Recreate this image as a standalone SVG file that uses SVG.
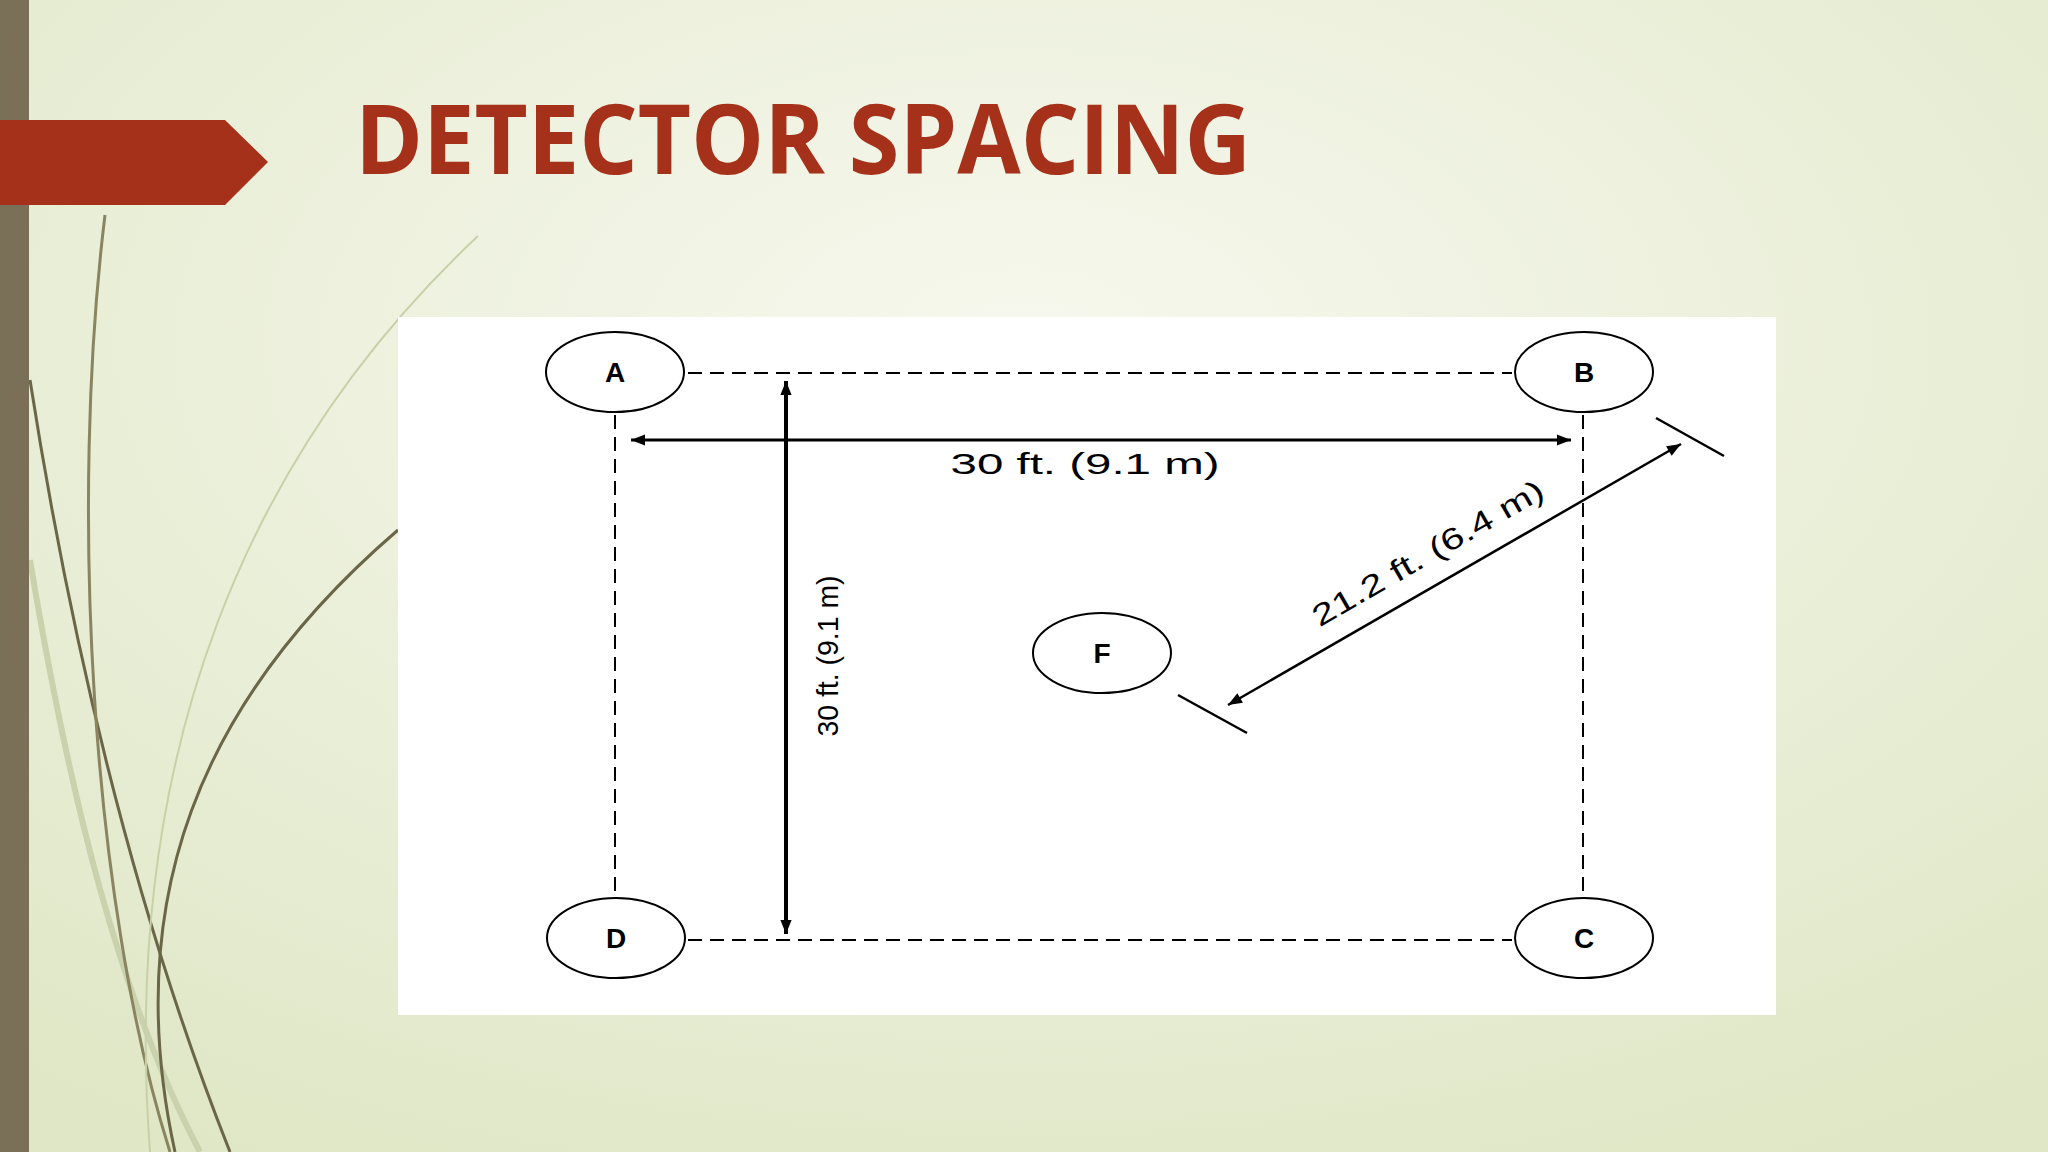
<svg xmlns="http://www.w3.org/2000/svg" width="2048" height="1152" viewBox="0 0 2048 1152">
<defs>
<radialGradient id="bg" cx="0.5" cy="0.3" r="0.8">
<stop offset="0" stop-color="#f7f8ee"/><stop offset="1" stop-color="#dfe7c6"/>
</radialGradient>
<marker id="ahb" viewBox="0 0 10 10" refX="10" refY="5" markerWidth="24" markerHeight="14" markerUnits="userSpaceOnUse" orient="auto-start-reverse">
<path d="M0,1 L10,5 L0,9 z" fill="#000"/>
</marker>
<style>
.det{fill:#fff;stroke:#000;stroke-width:2}
.lbl{font-family:"Liberation Sans",Arial,sans-serif;font-weight:bold;font-size:28px;text-anchor:middle;fill:#000}
.dim{font-family:"Liberation Sans",Arial,sans-serif;font-size:30px;text-anchor:middle;fill:#000}
.dash{stroke:#000;stroke-width:2;stroke-dasharray:14 8;fill:none}
</style>
</defs>
<rect width="2048" height="1152" fill="url(#bg)"/>
<g fill="none" stroke-width="3">
<path d="M30,380 C80,700 150,950 230,1152" stroke="#6b6648"/>
<path d="M30,560 C70,800 120,1000 200,1152" stroke="#c9d1ad" stroke-width="6"/>
<path d="M105,215 C70,500 90,900 170,1152" stroke="#8a8460"/>
<path d="M398,530 C200,700 120,900 175,1152" stroke="#6b6648"/>
<path d="M478,236 C250,450 120,750 150,1152" stroke="#c8d0a8" stroke-width="2"/>
</g>
<rect x="0" y="0" width="29" height="1152" fill="#7a7058"/>
<path d="M0,120 L225,120 L268,162 L225,205 L0,205 z" fill="#a5311a"/>
<text x="355" y="174" font-family="Open Sans,Liberation Sans,sans-serif" font-weight="bold" font-size="96" fill="#a5311a" textLength="896" lengthAdjust="spacingAndGlyphs">DETECTOR SPACING</text>
<rect x="398" y="317" width="1378" height="698" fill="#fff"/>
<g id="connectors">
<line class="dash" x1="688" y1="373" x2="1512" y2="373"/>
<line class="dash" x1="688" y1="940" x2="1512" y2="940"/>
<line class="dash" x1="615" y1="415" x2="615" y2="898"/>
<line class="dash" x1="1583" y1="415" x2="1583" y2="898"/>
<line x1="631" y1="440" x2="1571" y2="440" stroke="#000" stroke-width="3" marker-start="url(#ahb)" marker-end="url(#ahb)"/>
<line x1="786" y1="381" x2="786" y2="934" stroke="#000" stroke-width="4" marker-start="url(#ahb)" marker-end="url(#ahb)"/>
<line x1="1228" y1="705" x2="1681" y2="444" stroke="#000" stroke-width="2.5" marker-start="url(#ahb)" marker-end="url(#ahb)"/>
<line x1="1656" y1="418" x2="1724" y2="456" stroke="#000" stroke-width="2.5"/>
<line x1="1178" y1="695" x2="1247" y2="733" stroke="#000" stroke-width="2.5"/>
<text class="dim" x="1085" y="474" textLength="269" lengthAdjust="spacingAndGlyphs">30 ft. (9.1 m)</text>
<text class="dim" transform="translate(838,656) rotate(-90)" textLength="161" lengthAdjust="spacingAndGlyphs">30 ft. (9.1 m)</text>
<text class="dim" transform="translate(1433,562) rotate(-30)" textLength="262" lengthAdjust="spacingAndGlyphs">21.2 ft. (6.4 m)</text>
</g>
<g id="A"><ellipse class="det" cx="615" cy="372" rx="69" ry="40"/><text class="lbl" x="615" y="382">A</text></g>
<g id="B"><ellipse class="det" cx="1584" cy="372" rx="69" ry="40"/><text class="lbl" x="1584" y="382">B</text></g>
<g id="D"><ellipse class="det" cx="616" cy="938" rx="69" ry="40"/><text class="lbl" x="616" y="948">D</text></g>
<g id="C"><ellipse class="det" cx="1584" cy="938" rx="69" ry="40"/><text class="lbl" x="1584" y="948">C</text></g>
<g id="F"><ellipse class="det" cx="1102" cy="653" rx="69" ry="40"/><text class="lbl" x="1102" y="663">F</text></g>
</svg>
